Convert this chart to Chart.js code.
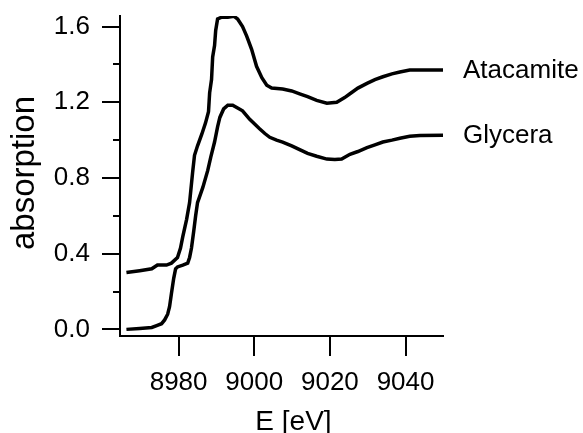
<!DOCTYPE html>
<html><head><meta charset="utf-8">
<script src="https://cdn.jsdelivr.net/npm/chart.js@4"></script>
<style>html,body{margin:0;padding:0;background:#fff}#wrap{width:583px;height:433px;position:relative}</style>
</head><body><div id="wrap"><canvas id="c"></canvas></div>
<script>
const energyAtacamite = [8966.2, 8969.7, 8972.9, 8974.4, 8976.8, 8978.1, 8979.7, 8980.5, 8981.1, 8982.1, 8982.9, 8983.7, 8984.2, 8985.0, 8986.1, 8987.1, 8987.9, 8988.2, 8988.7, 8989.0, 8989.5, 8989.8, 8990.3, 8991.4, 8993.0, 8994.6, 8995.6, 8996.9, 8998.0, 8999.3, 9000.6, 9002.0, 9003.3, 9004.6, 9007.5, 9009.9, 9012.0, 9014.1, 9016.5, 9019.2, 9021.8, 9023.9, 9025.3, 9027.4, 9029.8, 9031.9, 9034.0, 9036.4, 9038.5, 9041.1, 9043.8, 9049.9];
const absAtacamite = [0.30, 0.31, 0.32, 0.34, 0.34, 0.35, 0.38, 0.43, 0.49, 0.58, 0.67, 0.83, 0.92, 0.97, 1.03, 1.09, 1.15, 1.25, 1.32, 1.44, 1.50, 1.58, 1.64, 1.65, 1.65, 1.655, 1.64, 1.60, 1.55, 1.48, 1.39, 1.33, 1.29, 1.275, 1.27, 1.26, 1.245, 1.23, 1.21, 1.195, 1.20, 1.225, 1.245, 1.275, 1.30, 1.32, 1.335, 1.35, 1.36, 1.37, 1.37, 1.37];
const energyGlycera = [8966.2, 8969.7, 8972.9, 8974.2, 8975.5, 8976.3, 8977.1, 8977.6, 8978.1, 8978.7, 8979.2, 8979.7, 8981.1, 8982.4, 8982.9, 8983.4, 8984.0, 8984.5, 8985.0, 8986.4, 8987.7, 8988.5, 8989.5, 8990.3, 8990.9, 8991.9, 8993.0, 8994.3, 8995.6, 8996.9, 8998.8, 9000.1, 9001.4, 9002.8, 9004.1, 9005.9, 9007.5, 9009.9, 9012.0, 9014.1, 9016.5, 9019.2, 9021.3, 9023.1, 9025.3, 9027.4, 9029.8, 9031.9, 9034.0, 9036.4, 9038.5, 9041.1, 9043.8, 9049.9];
const absGlycera = [0.00, 0.005, 0.01, 0.02, 0.03, 0.05, 0.08, 0.12, 0.19, 0.27, 0.32, 0.33, 0.34, 0.35, 0.38, 0.43, 0.52, 0.60, 0.67, 0.75, 0.84, 0.91, 0.99, 1.07, 1.12, 1.165, 1.185, 1.185, 1.17, 1.155, 1.11, 1.085, 1.06, 1.035, 1.015, 1.00, 0.99, 0.97, 0.95, 0.93, 0.915, 0.90, 0.898, 0.90, 0.925, 0.94, 0.96, 0.975, 0.99, 1.00, 1.01, 1.02, 1.025, 1.026];
const seriesNames = ['Atacamite', 'Glycera'];
const xTickValues = [8980, 9000, 9020, 9040];
const yMajorTicks = [0.0, 0.4, 0.8, 1.2, 1.6];
const yMinorTicks = [0.2, 0.6, 1.0, 1.4];
const xTitle = 'E [eV]';
const yTitle = 'absorption';

const FONT = '"Liberation Sans", Arial, Helvetica, sans-serif';
const toPts = (xs, ys) => xs.map((x, i) => ({x: x, y: ys[i]}));

const decor = {
  id: 'decor',
  afterDraw(chart) {
    const ctx = chart.ctx;
    const xs = chart.scales.x, ys = chart.scales.y;
    const a = chart.chartArea;
    ctx.save();
    ctx.strokeStyle = '#000';
    ctx.lineWidth = 2;
    ctx.lineCap = 'butt';
    ctx.beginPath();
    yMajorTicks.forEach(v => { const p = Math.round(ys.getPixelForValue(v)); ctx.moveTo(a.left - 18, p); ctx.lineTo(a.left, p); });
    yMinorTicks.forEach(v => { const p = Math.round(ys.getPixelForValue(v)); ctx.moveTo(a.left - 7, p); ctx.lineTo(a.left, p); });
    xTickValues.forEach(v => { const p = Math.round(xs.getPixelForValue(v)); ctx.moveTo(p, a.bottom); ctx.lineTo(p, a.bottom + 20); });
    ctx.stroke();
    ctx.fillStyle = '#000';
    // y title
    ctx.save();
    ctx.font = '33px ' + FONT;
    ctx.translate(25, (a.top + a.bottom) / 2 - 3);
    ctx.rotate(-Math.PI / 2);
    ctx.textAlign = 'center';
    ctx.textBaseline = 'middle';
    ctx.fillText(yTitle, 0, 0);
    ctx.restore();
    // x title
    ctx.font = '28px ' + FONT;
    ctx.textAlign = 'center';
    ctx.textBaseline = 'alphabetic';
    ctx.fillText(xTitle, (a.left + a.right) / 2 + 12, a.bottom + 94);
    // series end labels
    ctx.font = '26px ' + FONT;
    ctx.textAlign = 'left';
    chart.data.datasets.forEach(ds => {
      const last = ds.data[ds.data.length - 1];
      ctx.fillText(ds.label, a.right + 20, ys.getPixelForValue(last.y) + 7.5);
    });
    ctx.restore();
  }
};

new Chart(document.getElementById('c'), {
  type: 'line',
  data: {
    datasets: [
      {label: seriesNames[0], data: toPts(energyAtacamite, absAtacamite), borderColor: '#000', borderWidth: 3.5, pointRadius: 0, tension: 0, fill: false},
      {label: seriesNames[1], data: toPts(energyGlycera, absGlycera), borderColor: '#000', borderWidth: 3.5, pointRadius: 0, tension: 0, fill: false}
    ]
  },
  options: {
    responsive: true,
    maintainAspectRatio: false,
    animation: false,
    layout: {padding: {top: 16, right: 140, left: 0, bottom: 0}},
    plugins: {legend: {display: false}, tooltip: {enabled: false}},
    scales: {
      x: {
        type: 'linear', min: 8964.5, max: 9049.9,
        grid: {display: false, drawTicks: false},
        border: {display: true, color: '#000', width: 2},
        afterBuildTicks: s => { s.ticks = xTickValues.map(v => ({value: v})); },
        afterFit: s => { s.height = 97; s.paddingLeft = 0; s.paddingRight = 0; },
        ticks: {color: '#000', font: {family: FONT, size: 26}, padding: 31, autoSkip: false, maxRotation: 0, callback: v => String(v)}
      },
      y: {
        type: 'linear', min: -0.035, max: 1.656,
        grid: {display: false, drawTicks: false},
        border: {display: true, color: '#000', width: 2},
        afterBuildTicks: s => { s.ticks = yMajorTicks.map(v => ({value: v})); },
        afterFit: s => { s.width = 120; s.paddingTop = 0; s.paddingBottom = 0; },
        ticks: {color: '#000', font: {family: FONT, size: 26}, padding: 30, autoSkip: false, callback: v => Number(v).toFixed(1)}
      }
    }
  },
  plugins: [decor]
});
</script></body></html>
